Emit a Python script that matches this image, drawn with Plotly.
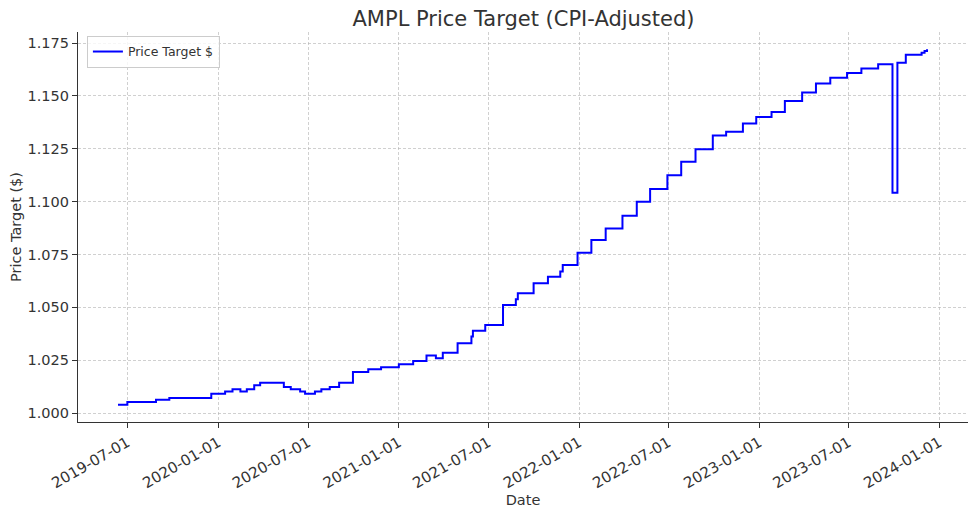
import plotly.graph_objects as go

# step dates (value holds from this date until the next one) and CPI-adjusted target
step_dates = [
    "2019-06-12", "2019-07-01", "2019-08-28", "2019-09-24", "2019-12-18",
    "2020-01-15", "2020-01-30", "2020-02-15", "2020-02-28", "2020-03-14",
    "2020-03-26", "2020-05-13", "2020-05-27", "2020-06-15", "2020-06-25",
    "2020-07-15", "2020-07-28", "2020-08-14", "2020-09-02", "2020-09-30",
    "2020-10-31", "2020-11-26", "2021-01-01", "2021-01-30", "2021-02-26",
    "2021-03-17", "2021-03-31", "2021-04-30", "2021-05-28", "2021-05-31",
    "2021-06-25", "2021-07-31", "2021-08-26", "2021-08-30", "2021-10-01",
    "2021-10-30", "2021-11-24", "2021-11-29", "2021-12-29", "2022-01-26",
    "2022-02-24", "2022-03-30", "2022-04-28", "2022-05-25", "2022-06-29",
    "2022-07-27", "2022-08-25", "2022-09-29", "2022-10-26", "2022-11-29",
    "2022-12-26", "2023-01-26", "2023-02-22", "2023-03-29", "2023-04-26",
    "2023-05-25", "2023-06-28", "2023-07-27", "2023-08-30", "2023-09-28",
    "2023-10-08", "2023-10-25", "2023-11-26", "2023-12-02", "2023-12-07",
]
price_target = [
    1.0039, 1.0052, 1.0063, 1.0072, 1.0091,
    1.0102, 1.0113, 1.0102, 1.0113, 1.0132,
    1.0144, 1.0123, 1.0113, 1.0102, 1.0091,
    1.0102, 1.0113, 1.0123, 1.0144, 1.0194,
    1.0208, 1.0217, 1.0231, 1.0247, 1.0272,
    1.0260, 1.0286, 1.0330, 1.0362, 1.0389,
    1.0417, 1.0511, 1.0538, 1.0567, 1.0614,
    1.0645, 1.0670, 1.0700, 1.0758, 1.0818,
    1.0873, 1.0933, 1.0999, 1.1060, 1.1125,
    1.1188, 1.1248, 1.1313, 1.1330, 1.1369,
    1.1400, 1.1424, 1.1476, 1.1516, 1.1558,
    1.1586, 1.1608, 1.1630, 1.1649, 1.1042,
    1.1657, 1.1695, 1.1704, 1.1712, 1.1720,
]

x_ticks = ["2019-07-01", "2020-01-01", "2020-07-01", "2021-01-01", "2021-07-01",
           "2022-01-01", "2022-07-01", "2023-01-01", "2023-07-01", "2024-01-01"]
y_ticks = [1.000, 1.025, 1.050, 1.075, 1.100, 1.125, 1.150, 1.175]

FONT = "DejaVu Sans"
INK = "#333333"
GRID = "rgba(176,176,176,0.6)"

# page body keeps an 8px margin, so the figure is a bit smaller than the window
W, H = 960, 501

fig = go.Figure()

fig.add_trace(go.Scatter(
    x=step_dates,
    y=price_target,
    mode="lines",
    line=dict(color="#0000ff", width=2, shape="hv"),
    name="Price Target $",
))

fig.update_layout(
    width=W,
    height=H,
    title=dict(
        text="AMPL Price Target (CPI-Adjusted)",
        x=515.5 / W,
        xanchor="center",
        y=1 - 11 / H,
        yanchor="middle",
        font=dict(family=FONT, size=21, color=INK),
    ),
    font=dict(family=FONT, color=INK),
    plot_bgcolor="white",
    paper_bgcolor="white",
    margin=dict(l=70, r=0, t=24, b=87),
    showlegend=True,
    legend=dict(
        x=0.01,
        y=0.99,
        xanchor="left",
        yanchor="top",
        bgcolor="rgba(255,255,255,0.8)",
        bordercolor="#cccccc",
        borderwidth=1,
        font=dict(family=FONT, size=12.5, color=INK),
        itemwidth=30,
    ),
    xaxis=dict(
        type="date",
        range=["2019-03-23", "2024-02-28"],
        automargin=False,
        tickmode="array",
        tickvals=x_ticks,
        ticktext=x_ticks,
        tickangle=-30,
        tickfont=dict(family=FONT, size=15, color=INK),
        ticks="outside",
        ticklen=5,
        tickcolor=INK,
        showline=True,
        linecolor=INK,
        linewidth=1.3,
        mirror=False,
        showgrid=True,
        gridcolor=GRID,
        griddash="3px,2px",
        gridwidth=0.8,
        zeroline=False,
        title=dict(text="Date", font=dict(family=FONT, size=14.5, color=INK), standoff=2),
    ),
    yaxis=dict(
        range=[0.9958, 1.1802],
        automargin=False,
        tickmode="array",
        tickvals=y_ticks,
        ticktext=[f"{v:.3f}" for v in y_ticks],
        tickfont=dict(family=FONT, size=14.5, color=INK),
        ticks="outside",
        ticklen=5,
        tickcolor=INK,
        showline=True,
        linecolor=INK,
        linewidth=1.3,
        mirror=False,
        showgrid=True,
        gridcolor=GRID,
        griddash="3px,2px",
        gridwidth=0.8,
        zeroline=False,
        title=dict(text="Price Target ($)", font=dict(family=FONT, size=14.5, color=INK), standoff=4),
    ),
)

fig.write_html("out.html")
